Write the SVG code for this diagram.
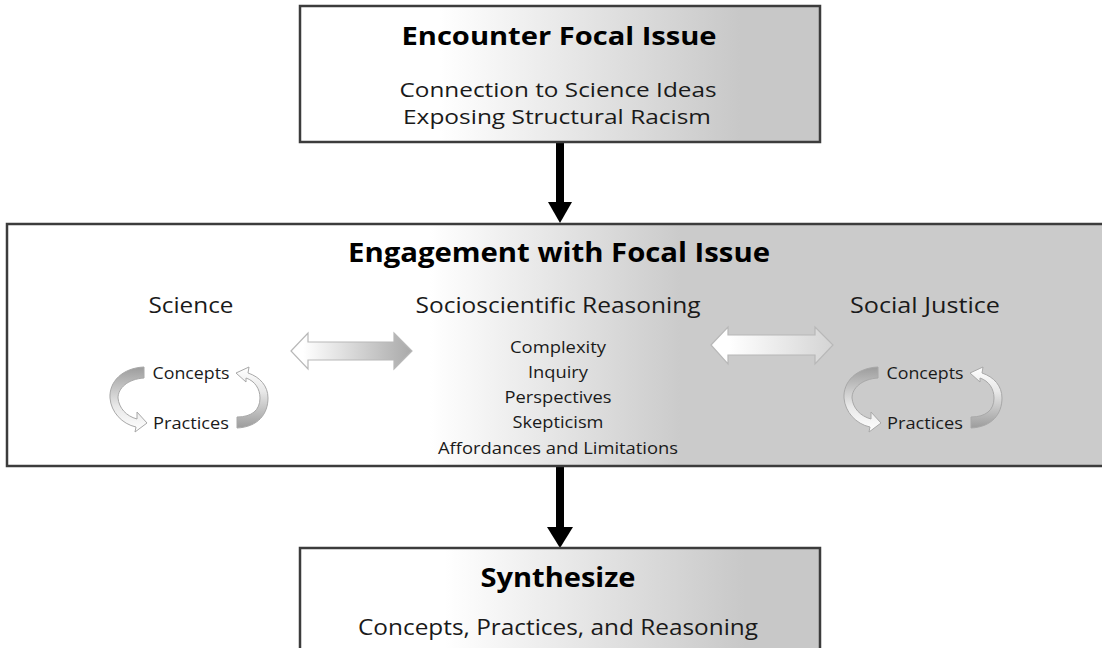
<svg xmlns="http://www.w3.org/2000/svg" width="1102" height="648" viewBox="0 0 1102 648">
<defs>
<linearGradient id="gTop" gradientUnits="userSpaceOnUse" x1="440" y1="0" x2="740" y2="0"><stop offset="0" stop-color="#ffffff"/><stop offset="1" stop-color="#c8c8c8"/></linearGradient>
<linearGradient id="gMid" gradientUnits="userSpaceOnUse" x1="430" y1="0" x2="680" y2="0"><stop offset="0" stop-color="#ffffff"/><stop offset="1" stop-color="#cbcbcb"/></linearGradient>
<linearGradient id="gBot" gradientUnits="userSpaceOnUse" x1="445" y1="0" x2="745" y2="0"><stop offset="0" stop-color="#ffffff"/><stop offset="1" stop-color="#c8c8c8"/></linearGradient>
<linearGradient id="gArrL" x1="0" y1="0" x2="1" y2="0"><stop offset="0.1" stop-color="#ffffff"/><stop offset="1" stop-color="#a9a9a9"/></linearGradient>
<linearGradient id="gArrR" x1="0" y1="0" x2="1" y2="0"><stop offset="0.15" stop-color="#ffffff"/><stop offset="1" stop-color="#d4d4d4"/></linearGradient>
<linearGradient id="gCurvDown" x1="0" y1="0" x2="0" y2="1"><stop offset="0" stop-color="#9c9c9c"/><stop offset="0.6" stop-color="#e8e8e8"/><stop offset="1" stop-color="#ffffff"/></linearGradient>
<linearGradient id="gCurvUp" x1="0" y1="1" x2="0" y2="0"><stop offset="0" stop-color="#9c9c9c"/><stop offset="0.6" stop-color="#e8e8e8"/><stop offset="1" stop-color="#ffffff"/></linearGradient>
<g id="cycle">
<path class="curve" fill="url(#gCurvDown)" d="M144,367 C122,368 109,382 110,398 C111,412 122,424 136,427 L135,432 L147,423 L137,412 L137,419 C126,416 119,408 118,398 C118,388 128,379 144,378 Z"/>
<path class="curve" fill="url(#gCurvUp)" d="M237,428 C258,427 268,414 268,398 C268,386 260,377 248,373 L249,367 L236,373 L246,382 L246,378 C255,381 260,389 260,398 C260,410 252,417 237,417 Z"/>
</g>
</defs>
<style>
.box{stroke:#3c3c3c;stroke-width:2.5}
.t{font-family:"Open Sans","Liberation Sans",sans-serif;fill:#1a1a1a;text-anchor:middle}
.b{font-weight:bold;fill:#000}
.curve{stroke:#a8a8a8;stroke-width:1}
.blk{stroke:#b8b8b8;stroke-width:1.2}
</style>

<g id="connectors">
<rect x="556" y="142" width="8" height="62" fill="#000"/>
<polygon points="548,202 572,202 560,223" fill="#000"/>
<rect x="556" y="466" width="8" height="63" fill="#000"/>
<polygon points="547,527 573,527 560,548" fill="#000"/>
</g>

<g id="encounter">
<rect class="box" x="300" y="6" width="520" height="136" fill="url(#gTop)"/>
<text class="t b" x="559" y="45" font-size="25" textLength="315" lengthAdjust="spacingAndGlyphs">Encounter Focal Issue</text>
<text class="t" x="558" y="97" font-size="20.5" textLength="317" lengthAdjust="spacingAndGlyphs">Connection to Science Ideas</text>
<text class="t" x="557" y="124" font-size="20.5" textLength="308" lengthAdjust="spacingAndGlyphs">Exposing Structural Racism</text>
</g>

<g id="engagement">
<rect class="box" x="7" y="224" width="1110" height="242" fill="url(#gMid)"/>
<text class="t b" x="559" y="262" font-size="26" textLength="422" lengthAdjust="spacingAndGlyphs">Engagement with Focal Issue</text>
</g>

<g id="science">
<text class="t" x="191" y="313" font-size="22" textLength="85" lengthAdjust="spacingAndGlyphs">Science</text>
<use href="#cycle"/>
<text class="t" x="191" y="379" font-size="17" textLength="77" lengthAdjust="spacingAndGlyphs">Concepts</text>
<text class="t" x="191" y="429" font-size="17" textLength="76" lengthAdjust="spacingAndGlyphs">Practices</text>
</g>

<g id="science-ssr-arrow">
<polygon class="blk" fill="url(#gArrL)" points="291,351 308,333 308,342 394,342 394,333 412,351 394,369 394,360 308,360 308,369"/>
</g>

<g id="ssr">
<text class="t" x="558" y="313" font-size="22" textLength="285" lengthAdjust="spacingAndGlyphs">Socioscientific Reasoning</text>
<text class="t" x="558" y="353" font-size="16" textLength="96" lengthAdjust="spacingAndGlyphs">Complexity</text>
<text class="t" x="558" y="378" font-size="16" textLength="60" lengthAdjust="spacingAndGlyphs">Inquiry</text>
<text class="t" x="558" y="403" font-size="16" textLength="107" lengthAdjust="spacingAndGlyphs">Perspectives</text>
<text class="t" x="558" y="428" font-size="16" textLength="91" lengthAdjust="spacingAndGlyphs">Skepticism</text>
<text class="t" x="558" y="454" font-size="16" textLength="240" lengthAdjust="spacingAndGlyphs">Affordances and Limitations</text>
</g>

<g id="ssr-justice-arrow">
<polygon class="blk" fill="url(#gArrR)" points="711,345 728,327 728,335 815,335 815,327 833,345 815,364 815,355 728,355 728,364"/>
</g>

<g id="social-justice">
<text class="t" x="925" y="313" font-size="22" textLength="150" lengthAdjust="spacingAndGlyphs">Social Justice</text>
<use href="#cycle" transform="translate(734,0)"/>
<text class="t" x="925" y="379" font-size="17" textLength="77" lengthAdjust="spacingAndGlyphs">Concepts</text>
<text class="t" x="925" y="429" font-size="17" textLength="76" lengthAdjust="spacingAndGlyphs">Practices</text>
</g>

<g id="synthesize">
<rect class="box" x="300" y="548" width="520" height="112" fill="url(#gBot)"/>
<text class="t b" x="558" y="587" font-size="26" textLength="155" lengthAdjust="spacingAndGlyphs">Synthesize</text>
<text class="t" x="558" y="635" font-size="22" textLength="400" lengthAdjust="spacingAndGlyphs">Concepts, Practices, and Reasoning</text>
</g>
</svg>
